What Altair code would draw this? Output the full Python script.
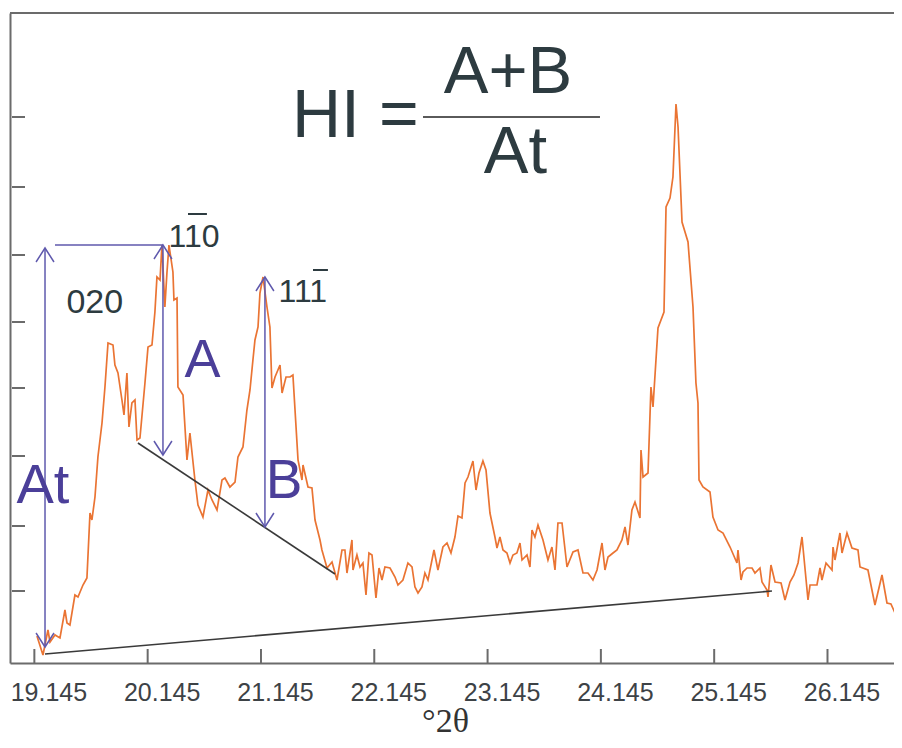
import altair as alt
import pandas as pd

# ---------------- data ----------------
two_theta = [
    19.168, 19.221, 19.265, 19.283, 19.327, 19.371, 19.415, 19.433, 19.459, 19.503,
    19.530, 19.574, 19.609, 19.636, 19.653, 19.680, 19.706, 19.742, 19.768, 19.795,
    19.839, 19.856, 19.883, 19.918, 19.936, 19.962, 19.980, 20.006, 20.033, 20.051,
    20.077, 20.121, 20.148, 20.183, 20.209, 20.227, 20.254, 20.271, 20.297, 20.315,
    20.333, 20.368, 20.377, 20.404, 20.412, 20.457, 20.492, 20.518, 20.562, 20.589,
    20.633, 20.677, 20.713, 20.757, 20.801, 20.827, 20.871, 20.916, 20.942, 20.986,
    21.021, 21.048, 21.074, 21.092, 21.119, 21.136, 21.163, 21.198, 21.224, 21.242,
    21.269, 21.313, 21.331, 21.366, 21.401, 21.427, 21.472, 21.507, 21.516, 21.560,
    21.595, 21.622, 21.666, 21.683, 21.728, 21.772, 21.816, 21.860, 21.886, 21.904,
    21.948, 21.957, 21.992, 22.019, 22.045, 22.072, 22.098, 22.125, 22.160, 22.187,
    22.213, 22.239, 22.284, 22.328, 22.354, 22.398, 22.442, 22.478, 22.504, 22.531,
    22.566, 22.592, 22.619, 22.672, 22.707, 22.751, 22.787, 22.822, 22.857, 22.884,
    22.919, 22.946, 22.972, 23.016, 23.043, 23.069, 23.104, 23.131, 23.166, 23.210,
    23.228, 23.254, 23.281, 23.316, 23.343, 23.369, 23.404, 23.431, 23.449, 23.493,
    23.519, 23.537, 23.563, 23.590, 23.634, 23.678, 23.713, 23.740, 23.766, 23.802,
    23.846, 23.899, 23.943, 23.987, 24.031, 24.075, 24.111, 24.155, 24.181, 24.208,
    24.252, 24.287, 24.331, 24.358, 24.384, 24.419, 24.446, 24.490, 24.499, 24.517,
    24.561, 24.587, 24.605, 24.649, 24.702, 24.720, 24.755, 24.781, 24.808, 24.826,
    24.861, 24.914, 24.958, 24.984, 25.002, 25.011, 25.046, 25.108, 25.134, 25.179,
    25.223, 25.285, 25.346, 25.355, 25.382, 25.399, 25.435, 25.479, 25.505, 25.549,
    25.567, 25.611, 25.620, 25.646, 25.682, 25.735, 25.770, 25.814, 25.849, 25.885,
    25.920, 25.973, 25.991, 26.052, 26.079, 26.096, 26.132, 26.185, 26.194, 26.211,
    26.255, 26.273, 26.317, 26.361, 26.414, 26.432, 26.502, 26.564, 26.626, 26.670,
    26.705, 26.741, 26.803,
]
intensity = [
    27, 8, 33, 21, 28, 25, 53, 40, 38, 68,
    66, 78, 85, 150, 143, 166, 206, 240, 276, 320,
    318, 298, 290, 263, 248, 290, 236, 260, 263, 223,
    225, 280, 316, 318, 351, 386, 383, 418, 356, 390,
    418, 391, 363, 365, 276, 268, 203, 230, 183, 158,
    146, 173, 163, 153, 183, 185, 176, 181, 206, 216,
    253, 273, 303, 323, 336, 370, 386, 356, 336, 275,
    286, 298, 270, 286, 286, 288, 203, 183, 198, 176,
    175, 143, 123, 113, 95, 101, 83, 113, 113, 90,
    123, 93, 108, 96, 100, 68, 110, 108, 65, 95,
    83, 96, 95, 86, 78, 83, 100, 96, 76, 70,
    76, 90, 83, 113, 93, 116, 120, 110, 126, 147,
    145, 180, 186, 202, 173, 190, 202, 193, 150, 126,
    115, 126, 113, 110, 100, 108, 110, 120, 103, 108,
    96, 133, 126, 138, 123, 103, 116, 93, 140, 140,
    96, 111, 113, 90, 90, 83, 93, 120, 93, 106,
    110, 113, 123, 136, 118, 153, 161, 145, 213, 186,
    190, 276, 256, 335, 351, 456, 465, 486, 559, 536,
    441, 421, 356, 280, 260, 183, 176, 171, 146, 133,
    130, 116, 100, 113, 83, 91, 95, 95, 90, 95,
    81, 73, 66, 98, 81, 80, 63, 81, 88, 100,
    126, 63, 78, 78, 95, 83, 100, 93, 116, 103,
    130, 110, 130, 115, 113, 96, 93, 58, 88, 60,
    59, 50, 46,
]
x_tick_values = [19.145, 20.145, 21.145, 22.145, 23.145, 24.145, 25.145, 26.145]
y_tick_values = [72, 137, 207, 275, 341, 408, 476, 546]

# annotation geometry (data units)
base_x = [20.059, 19.239]
base_y = [220, 9]
base_x2 = [21.798, 25.655]
base_y2 = [89, 72]

arrow_x = [19.239, 20.280, 21.180]
arrow_top = [415, 418, 386]
arrow_bottom = [16, 208, 136]

bracket_x = [19.327]
bracket_x2 = [20.280]
bracket_y = [418]

over_x = [20.501, 21.604]
over_x2 = [20.668, 21.736]
over_y = [449, 393]

frac_x = [22.575]
frac_x2 = [24.137]
frac_y = [546]

left_text = ["HI =", "020", "110", "111"]
left_x = [21.419, 19.428, 20.329, 21.300]
left_y = [526, 350, 416, 361]
left_size = [68, 34, 32, 32]

center_text = ["A+B", "At", "A", "B", "At"]
center_x = [23.325, 23.391, 20.629, 21.348, 19.221]
center_y = [570, 490, 286, 165, 160]
center_size = [67, 67, 54, 55, 56]
center_color = ["#2d3b40", "#2d3b40", "#4b3f99", "#4b3f99", "#4b3f99"]

# ---------------- styling ----------------
ORANGE = "#EA7433"
BLUE_LINE = "#5f59ad"
DARK = "#2d3b40"
AXIS_GREY = "#6b6b6b"
FONT = "Liberation Sans"

W, H = 884, 650
xs = alt.Scale(domain=[18.930, 26.732], nice=False, zero=False)
ys = alt.Scale(domain=[0, 650], nice=False, zero=False)

xaxis = alt.Axis(
    values=x_tick_values, format=".3f", ticks=False, tickSize=0, grid=False,
    domain=True, domainColor=AXIS_GREY, domainWidth=2,
    labelFont=FONT, labelFontSize=25, labelColor="#3d4246",
    labelBaseline="alphabetic", labelPadding=37, labelOffset=14,
    title="°2θ", titleFont="Liberation Serif", titleFontSize=34,
    titleFontWeight="normal", titleColor="#333333",
    titleX=435, titleY=68, titleBaseline="alphabetic", titleAlign="center",
)
yaxis = alt.Axis(
    labels=False, ticks=False, grid=False, title=None,
    domain=True, domainColor=AXIS_GREY, domainWidth=2,
)

spec_df = pd.DataFrame({"two_theta": two_theta, "intensity": intensity})

line = alt.Chart(spec_df).mark_line(color=ORANGE, strokeWidth=1.7, clip=True).encode(
    x=alt.X("two_theta:Q", scale=xs, axis=xaxis),
    y=alt.Y("intensity:Q", scale=ys, axis=yaxis),
)

base_df = pd.DataFrame({"x": base_x, "y": base_y, "x2": base_x2, "y2": base_y2})
baselines = alt.Chart(base_df).mark_rule(color="#3a3a3a", strokeWidth=1.6).encode(
    x=alt.X("x:Q", scale=xs), y=alt.Y("y:Q", scale=ys), x2="x2:Q", y2="y2:Q"
)

arrow_df = pd.DataFrame({"x": arrow_x, "top": arrow_top, "bottom": arrow_bottom})
stems = alt.Chart(arrow_df).mark_rule(color=BLUE_LINE, strokeWidth=1.5).encode(
    x=alt.X("x:Q", scale=xs), y=alt.Y("top:Q", scale=ys), y2="bottom:Q"
)
heads_up = alt.Chart(arrow_df).mark_point(
    shape="M-0.64,1L0,0L0.64,1", filled=False, size=784, color=BLUE_LINE,
    strokeWidth=1.5, opacity=1,
).encode(x=alt.X("x:Q", scale=xs), y=alt.Y("top:Q", scale=ys))
heads_down = alt.Chart(arrow_df).mark_point(
    shape="M-0.64,-1L0,0L0.64,-1", filled=False, size=784, color=BLUE_LINE,
    strokeWidth=1.5, opacity=1,
).encode(x=alt.X("x:Q", scale=xs), y=alt.Y("bottom:Q", scale=ys))

bracket_df = pd.DataFrame({"x": bracket_x, "x2": bracket_x2, "y": bracket_y})
bracket = alt.Chart(bracket_df).mark_rule(color=BLUE_LINE, strokeWidth=1.5).encode(
    x=alt.X("x:Q", scale=xs), x2="x2:Q", y=alt.Y("y:Q", scale=ys)
)

over_df = pd.DataFrame({"x": over_x, "x2": over_x2, "y": over_y})
overlines = alt.Chart(over_df).mark_rule(color=DARK, strokeWidth=2).encode(
    x=alt.X("x:Q", scale=xs), x2="x2:Q", y=alt.Y("y:Q", scale=ys)
)

frac_df = pd.DataFrame({"x": frac_x, "x2": frac_x2, "y": frac_y})
frac = alt.Chart(frac_df).mark_rule(color="#5a5a5a", strokeWidth=2).encode(
    x=alt.X("x:Q", scale=xs), x2="x2:Q", y=alt.Y("y:Q", scale=ys)
)

left_df = pd.DataFrame({"t": left_text, "x": left_x, "y": left_y, "s": left_size})
left_texts = alt.Chart(left_df).mark_text(
    align="left", baseline="alphabetic", font=FONT, color=DARK
).encode(
    x=alt.X("x:Q", scale=xs), y=alt.Y("y:Q", scale=ys),
    text="t:N", size=alt.Size("s:Q", scale=None, legend=None),
)

center_df = pd.DataFrame({"t": center_text, "x": center_x, "y": center_y,
                          "s": center_size, "c": center_color})
center_texts = alt.Chart(center_df).mark_text(
    align="center", baseline="alphabetic", font=FONT
).encode(
    x=alt.X("x:Q", scale=xs), y=alt.Y("y:Q", scale=ys),
    text="t:N", size=alt.Size("s:Q", scale=None, legend=None),
    color=alt.Color("c:N", scale=None, legend=None),
)

# inward tick marks and the top frame line
ytick_df = pd.DataFrame({"v": y_tick_values})
yticks = alt.Chart(ytick_df).mark_rule(color=AXIS_GREY, strokeWidth=2).encode(
    y=alt.Y("v:Q", scale=ys), x=alt.value(2), x2=alt.value(15)
)
xtick_df = pd.DataFrame({"v": x_tick_values})
xticks = alt.Chart(xtick_df).mark_rule(color=AXIS_GREY, strokeWidth=2).encode(
    x=alt.X("v:Q", scale=xs), y=alt.value(H - 14), y2=alt.value(H)
)
top_df = pd.DataFrame({"k": [0]})
top_line = alt.Chart(top_df).mark_rule(color=AXIS_GREY, strokeWidth=2).encode(
    x=alt.value(0), x2=alt.value(W), y=alt.value(0)
)

chart = alt.layer(
    top_line, yticks, xticks, line, baselines, stems, heads_up, heads_down,
    bracket, overlines, frac, left_texts, center_texts,
).properties(
    width=W, height=H,
    padding={"left": 2, "top": 5, "right": 0, "bottom": 75},
    autosize=alt.AutoSizeParams(type="none"),
    background="white",
).configure_view(stroke=None)

chart.save("out.html", embed_options={"renderer": "svg", "actions": False})
